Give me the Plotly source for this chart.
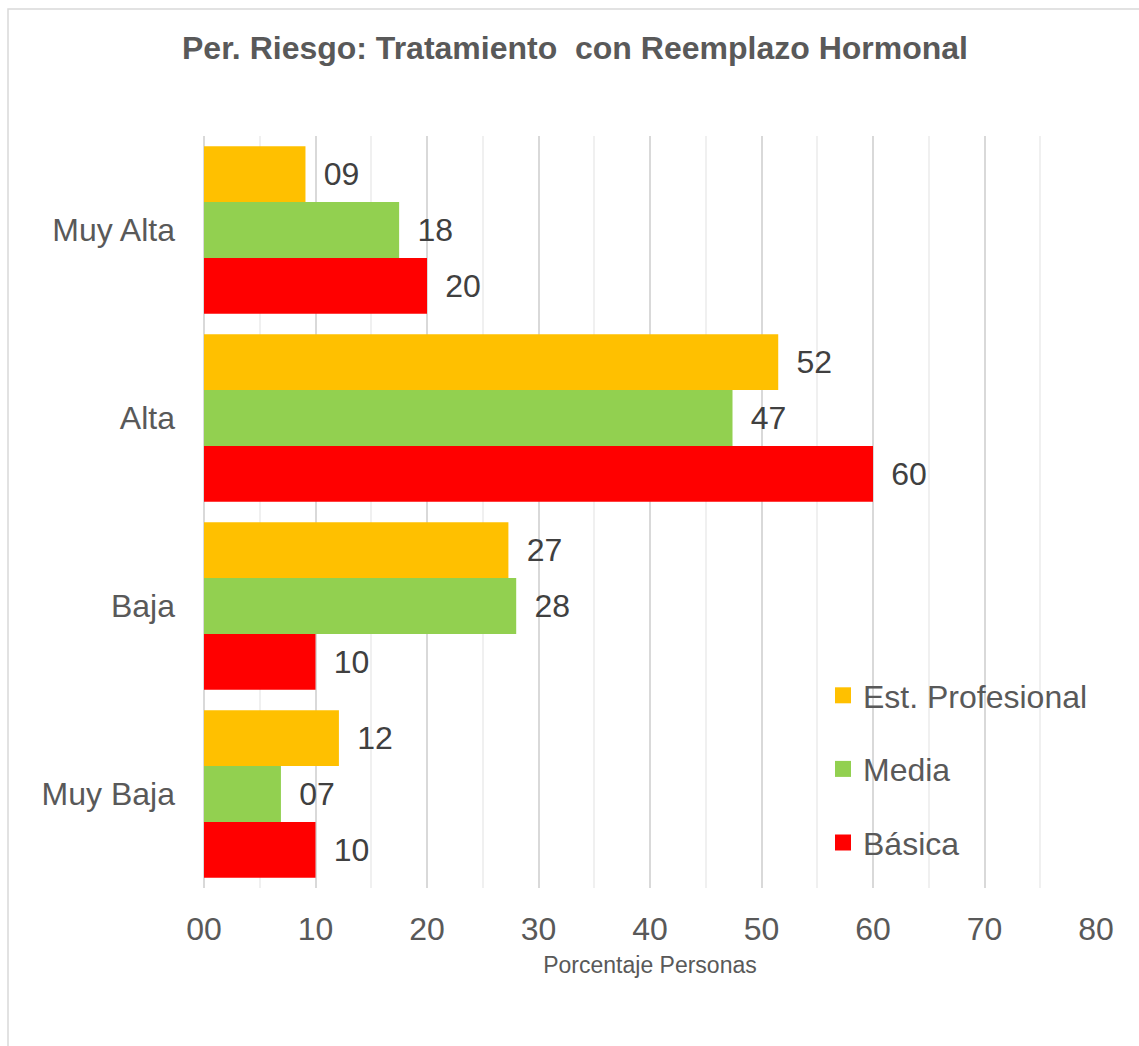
import plotly.graph_objects as go

# Risk level categories (bottom to top on the chart)
categorias = ["Muy Baja", "Baja", "Alta", "Muy Alta"]

# Percentage of people per education level
basica = [10.0, 10.0, 60.0, 20.0]
media = [6.9, 28.0, 47.4, 17.5]
est_profesional = [12.1, 27.3, 51.5, 9.1]

series = [
    ("Básica", basica, "#FF0000"),
    ("Media", media, "#92D050"),
    ("Est. Profesional", est_profesional, "#FFC000"),
]

W, H = 1139, 1046
L, R, T, B = 204, 43, 136, 158
pw, ph = W - L - R, H - T - B
FONT = "Liberation Sans, Arial"

fig = go.Figure()

for nombre, valores, color in series:
    fig.add_trace(go.Bar(
        y=categorias, x=valores, orientation="h", name=nombre,
        marker=dict(color=color, line=dict(width=0)),
        texttemplate="\u00a0\u2009%{x:02.0f}", textposition="outside",
        textfont=dict(family=FONT, size=32, color="#404040"),
        cliponaxis=False, showlegend=False, hoverinfo="x+name",
    ))

# Legend entries with larger square swatches, listed top to bottom
for nombre, valores, color in reversed(series):
    fig.add_trace(go.Scatter(
        x=[None], y=[None], mode="markers", name=nombre,
        marker=dict(symbol="square", size=16, color=color),
        legendgroup=nombre, showlegend=True,
    ))

# Light border framing the chart area
fig.add_shape(
    type="rect", xref="paper", yref="paper",
    x0=(8 - L) / pw, x1=(W + 20 - L) / pw,
    y0=(H - B - (H + 20)) / ph, y1=(H - B - 9) / ph,
    line=dict(color="#D9D9D9", width=1.5), fillcolor="rgba(0,0,0,0)", layer="below",
)

fig.update_layout(
    width=W, height=H,
    margin=dict(l=L, r=R, t=T, b=B),
    paper_bgcolor="white", plot_bgcolor="white",
    barmode="group", bargap=0.11, bargroupgap=0,
    title=dict(
        text="<b>Per. Riesgo: Tratamiento  con Reemplazo Hormonal</b>",
        x=575 / W, xanchor="center", xref="container",
        y=1 - 48 / H, yanchor="middle", yref="container",
        font=dict(family=FONT, size=32, color="#595959"),
    ),
    font=dict(family=FONT, color="#595959"),
    legend=dict(
        x=(823 - L) / pw, xanchor="left",
        y=(H - B - 668) / ph, yanchor="top",
        traceorder="grouped", tracegroupgap=29,
        font=dict(size=32, color="#595959"),
        bgcolor="rgba(0,0,0,0)", itemsizing="trace",
    ),
    xaxis=dict(
        range=[0, 80], dtick=10, tickformat="02d",
        showgrid=True, gridcolor="#D9D9D9", gridwidth=1.5,
        minor=dict(dtick=5, showgrid=True, gridcolor="#F0F0F0", gridwidth=1.5),
        zeroline=True, zerolinecolor="#D9D9D9", zerolinewidth=1.5,
        showline=False, ticks="",
        tickfont=dict(size=32, color="#595959"),
        ticklabelstandoff=19,
        title=dict(text="Porcentaje Personas", standoff=10,
                   font=dict(size=23, color="#595959")),
        fixedrange=True,
    ),
    yaxis=dict(
        categoryorder="array", categoryarray=categorias,
        showgrid=False, showline=False, ticks="",
        tickfont=dict(size=32, color="#595959"),
        ticklabelstandoff=28,
        fixedrange=True,
    ),
)

fig.write_html("out.html")
